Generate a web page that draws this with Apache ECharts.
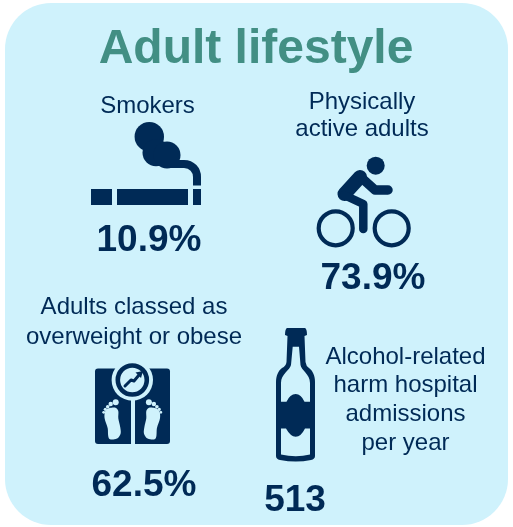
<!DOCTYPE html>
<html>
<head>
<meta charset="utf-8">
<title>Adult lifestyle</title>
<style>
  html, body { margin: 0; padding: 0; background: #ffffff; }
  #chart { width: 513px; height: 527px; }
</style>
<script src="https://cdn.jsdelivr.net/npm/echarts@6/dist/echarts.min.js"></script>
</head>
<body>
<div id="chart"></div>
<script>
// Headline figures and their captions
const heading = 'Adult lifestyle';
const smokersLabel = ['Smokers'];
const activeLabel = ['Physically', 'active adults'];
const overweightLabel = ['Adults classed as', 'overweight or obese'];
const alcoholLabel = ['Alcohol-related', 'harm hospital', 'admissions', 'per year'];
const statValues = ['10.9%', '73.9%', '62.5%', '513'];

const NAVY = '#002a56';
const PANEL = '#cff2fc';
const TEAL = '#428f84';
const FONT = '"Liberation Sans", Arial, sans-serif';

const elements = [];
let shapeCount = 0;

function text(str, x, y, size, weight, fill) {
  elements.push({
    type: 'text', x, y,
    style: { text: str, font: `${weight} ${size}px ${FONT}`, fill, align: 'center', verticalAlign: 'middle' }
  });
}
function captions(lines, xs, ys) {
  lines.forEach((l, i) => text(l, xs[i], ys[i], 24, 'normal', NAVY));
}
function stat(str, x, y) { text(str, x, y, 37, 'bold', NAVY); }
// SVG path strings become registered shape classes so the graphic component can draw them
function path(d, style) {
  const name = 'iconPath' + (shapeCount++);
  echarts.graphic.registerShape(name, echarts.graphic.extendPath(d, {}));
  elements.push({ type: name, style });
}
function circle(cx, cy, r, fill, stroke, lw) {
  elements.push({ type: 'circle', shape: { cx, cy, r }, style: { fill: fill || 'none', stroke: stroke || 'none', lineWidth: lw || 0 } });
}
function rect(x, y, width, height, r, fill) {
  elements.push({ type: 'rect', shape: { x, y, width, height, r }, style: { fill } });
}
function line(points, lw, color) {
  elements.push({ type: 'polyline', shape: { points }, style: { stroke: color, lineWidth: lw, fill: 'none', lineCap: 'round', lineJoin: 'round' } });
}

// Panel
rect(5, 3, 503, 522, 46, PANEL);

// Title
text(heading, 256, 50, 48, 'bold', TEAL);

// Cigarette and smoke
rect(91, 189, 21, 16, 0, NAVY);
rect(117, 189, 71, 16, 0, NAVY);
rect(193, 189, 8, 16, 0, NAVY);
circle(149.3, 136.7, 14.7, NAVY);
circle(156, 152.7, 13.5, NAVY);
circle(167, 155, 13.5, NAVY);
path('M170 164 L184 164 C192 164 197 170 197 177 L197 185.5', { fill: 'none', stroke: NAVY, lineWidth: 8 });
captions(smokersLabel, [147.5], [106]);
stat(statValues[0], 149, 241);

// Cyclist
captions(activeLabel, [362, 362], [102, 129]);
circle(375.7, 165.7, 9, NAVY);
circle(335.7, 228.3, 17, null, NAVY, 4.2);
circle(391.7, 228.3, 17, null, NAVY, 4.2);
line([[360, 177], [344.5, 194]], 14, NAVY);
line([[344, 195], [363.3, 204], [363.3, 229]], 8.5, NAVY);
line([[360, 176.5], [375, 190], [388, 190]], 9.5, NAVY);
stat(statValues[1], 373, 279);

// Bathroom scales
captions(overweightLabel, [134, 134], [307, 337]);
rect(95, 368.5, 75, 75.5, 3, NAVY);
rect(131, 385, 4, 60, 0, PANEL);
circle(132.3, 380, 20.7, PANEL);
circle(132.3, 380, 14.5, null, NAVY, 4.6);
line([[125, 386], [131, 380], [134, 381], [139, 375]], 3, NAVY);
elements.push({ type: 'polygon', shape: { points: [[143, 371], [135.5, 372.5], [141, 378]] }, style: { fill: NAVY } });

// One foot, mirrored about the centre line of the scales
function foot(mirror) {
  const mx = (x) => (mirror ? 264.6 - x : x);
  const pts = [
    [111.7, 407.7], [116, 408], [118.3, 411], [118.3, 418.3], [120.2, 427], [120.7, 433.3],
    [118, 438], [113.3, 439.5], [109.5, 439], [108.2, 436], [107.7, 428.3], [104.6, 418.3], [105, 411.7], [108, 408.5]
  ].map((p) => [mx(p[0]), p[1]]);
  elements.push({ type: 'polygon', shape: { points: pts, smooth: 0.3 }, style: { fill: PANEL } });
  circle(mx(115.7), 402.3, 3, PANEL);
  circle(mx(110.7), 404, 2.2, PANEL);
  circle(mx(107.7), 406.7, 1.8, PANEL);
  circle(mx(105.3), 409.3, 1.6, PANEL);
  circle(mx(103.7), 412.3, 1.4, PANEL);
}
foot(false);
foot(true);
stat(statValues[2], 144, 486);

// Bottle: silhouette with two cut-out windows either side of the label
path('M287 328 L305 328 Q307 329 307 335 L304.5 336 L305.5 362 Q306 366 309 368 C313 371 315 376 315 382 '
  + 'L315 456 Q315 459 311 460 Q296 463 280 460 Q276 459 276 456 L276 382 C276 376 278 371 282 368 Q286 366 286.5 362 L287.5 336 L285 335 Q285 329 287 328 Z', { fill: NAVY });
path('M292.7 346.7 L299 346.7 L300.5 365 C301 370 310 374 310 383 L310 401.7 L304.5 401.7 Q301 394 295.7 394 Q290 394 286.5 401.7 L281 401.7 L281 383 C281 374 290 370 291 365 Z', { fill: PANEL });
path('M281 428.5 L286 428.5 Q290.5 436.7 295.7 436.7 Q301 436.7 305 428.5 L310 428.5 L310 454.5 Q296 458 281 454.5 Z', { fill: PANEL });

captions(alcoholLabel, [405.5, 405.5, 405.5, 405.5], [357, 385, 414, 443]);
stat(statValues[3], 295, 501);

const chart = echarts.init(document.getElementById('chart'), null, { renderer: 'canvas' });
chart.setOption({ animation: false, backgroundColor: '#ffffff', graphic: { elements } });
</script>
</body>
</html>
